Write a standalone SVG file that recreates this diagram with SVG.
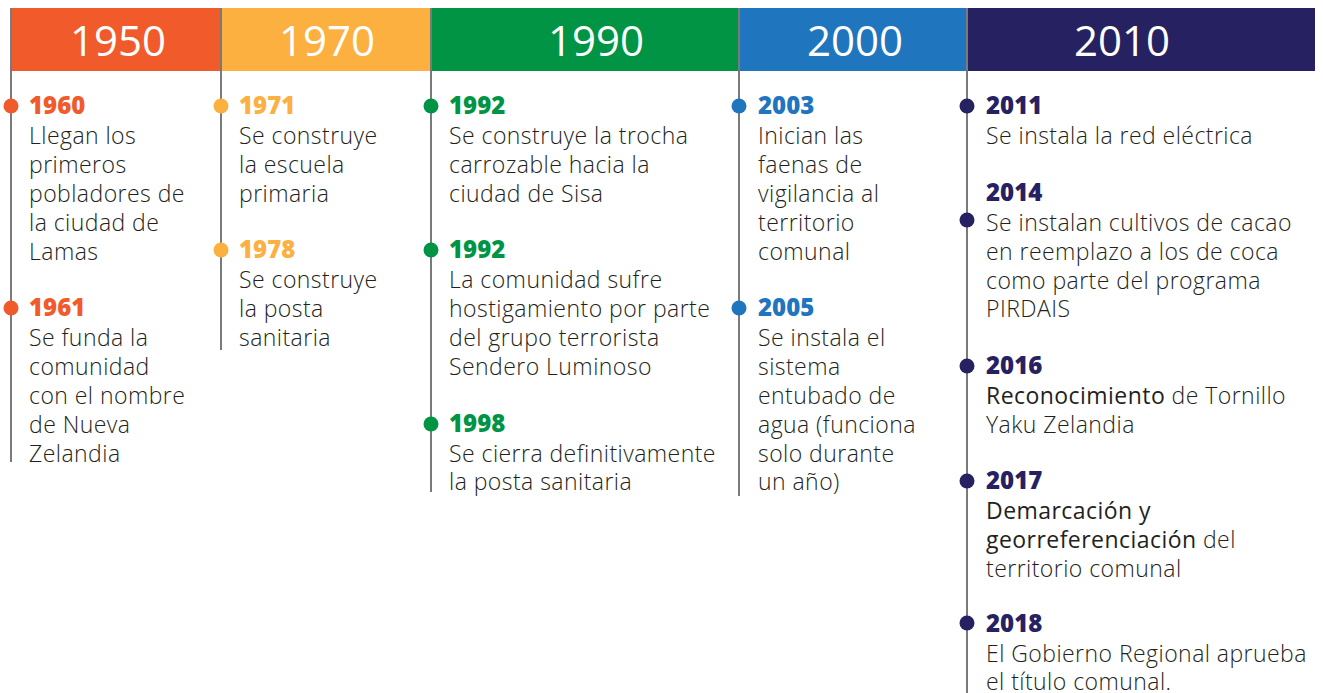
<svg xmlns="http://www.w3.org/2000/svg" width="1323" height="693" viewBox="0 0 1323 693">
<style>
.hd{font-family:"Open Sans","Liberation Sans",sans-serif;font-size:42px;fill:#fff;text-anchor:middle;font-weight:400}
.yr{font-family:"Open Sans","Liberation Sans",sans-serif;font-size:24px;font-weight:800}
.tx{font-family:"Open Sans","Liberation Sans",sans-serif;font-size:23px;font-weight:300;fill:#231f20;letter-spacing:0.45px}
.b{font-weight:500}
.ln{stroke:#7a7a7a;stroke-width:2}
.c1{fill:#f15a2b}.c2{fill:#fbb040}.c3{fill:#009444}.c4{fill:#1f75be}.c5{fill:#262262}
</style>
<rect width="1323" height="693" fill="#fff"/>
<g id="header">
<rect x="11" y="8" width="210" height="63" class="c1"/>
<rect x="221" y="8" width="210" height="63" class="c2"/>
<rect x="431" y="8" width="308" height="63" class="c3"/>
<rect x="739" y="8" width="228" height="63" class="c4"/>
<rect x="967" y="8" width="348" height="63" class="c5"/>
<text class="hd" x="118" y="56">1950</text>
<text class="hd" x="327" y="56">1970</text>
<text class="hd" x="596" y="56">1990</text>
<text class="hd" x="855" y="56">2000</text>
<text class="hd" x="1122" y="56">2010</text>
</g>
<g id="connectors">
<line class="ln" x1="11" y1="8" x2="11" y2="462"/>
<line class="ln" x1="221" y1="8" x2="221" y2="350"/>
<line class="ln" x1="431" y1="8" x2="431" y2="492"/>
<line class="ln" x1="739" y1="8" x2="739" y2="496"/>
<line class="ln" x1="967" y1="8" x2="967" y2="693"/>
</g>
<g id="col1950">
<circle cx="11" cy="106" r="7.5" class="c1"/>
<text class="yr c1" x="29" y="114">1960</text>
<text class="tx" x="29" y="144">Llegan los</text>
<text class="tx" x="29" y="173">primeros</text>
<text class="tx" x="29" y="202">pobladores de</text>
<text class="tx" x="29" y="231">la ciudad de</text>
<text class="tx" x="29" y="260">Lamas</text>
<circle cx="11" cy="308" r="7.5" class="c1"/>
<text class="yr c1" x="29" y="316">1961</text>
<text class="tx" x="29" y="346">Se funda la</text>
<text class="tx" x="29" y="375">comunidad</text>
<text class="tx" x="29" y="404">con el nombre</text>
<text class="tx" x="29" y="433">de Nueva</text>
<text class="tx" x="29" y="462">Zelandia</text>
</g>
<g id="col1970">
<circle cx="221" cy="106" r="7.5" class="c2"/>
<text class="yr c2" x="239" y="114">1971</text>
<text class="tx" x="239" y="144">Se construye</text>
<text class="tx" x="239" y="173">la escuela</text>
<text class="tx" x="239" y="202">primaria</text>
<circle cx="221" cy="250" r="7.5" class="c2"/>
<text class="yr c2" x="239" y="258">1978</text>
<text class="tx" x="239" y="288">Se construye</text>
<text class="tx" x="239" y="317">la posta</text>
<text class="tx" x="239" y="346">sanitaria</text>
</g>
<g id="col1990">
<circle cx="431" cy="106" r="7.5" class="c3"/>
<text class="yr c3" x="449" y="114">1992</text>
<text class="tx" x="449" y="144">Se construye la trocha</text>
<text class="tx" x="449" y="173">carrozable hacia la</text>
<text class="tx" x="449" y="202">ciudad de Sisa</text>
<circle cx="431" cy="250" r="7.5" class="c3"/>
<text class="yr c3" x="449" y="258">1992</text>
<text class="tx" x="449" y="288">La comunidad sufre</text>
<text class="tx" x="449" y="317">hostigamiento por parte</text>
<text class="tx" x="449" y="346">del grupo terrorista</text>
<text class="tx" x="449" y="375">Sendero Luminoso</text>
<circle cx="431" cy="424" r="7.5" class="c3"/>
<text class="yr c3" x="449" y="432">1998</text>
<text class="tx" x="449" y="462">Se cierra definitivamente</text>
<text class="tx" x="449" y="490">la posta sanitaria</text>
</g>
<g id="col2000">
<circle cx="739" cy="106" r="7.5" class="c4"/>
<text class="yr c4" x="758" y="114">2003</text>
<text class="tx" x="758" y="144">Inician las</text>
<text class="tx" x="758" y="173">faenas de</text>
<text class="tx" x="758" y="202">vigilancia al</text>
<text class="tx" x="758" y="231">territorio</text>
<text class="tx" x="758" y="260">comunal</text>
<circle cx="739" cy="308" r="7.5" class="c4"/>
<text class="yr c4" x="758" y="316">2005</text>
<text class="tx" x="758" y="346">Se instala el</text>
<text class="tx" x="758" y="375">sistema</text>
<text class="tx" x="758" y="404">entubado de</text>
<text class="tx" x="758" y="433">agua (funciona</text>
<text class="tx" x="758" y="462">solo durante</text>
<text class="tx" x="758" y="490">un año)</text>
</g>
<g id="col2010">
<circle cx="967" cy="106" r="7.5" class="c5"/>
<text class="yr c5" x="986" y="114">2011</text>
<text class="tx" x="986" y="144">Se instala la red eléctrica</text>
<circle cx="967" cy="220" r="7.5" class="c5"/>
<text class="yr c5" x="986" y="201">2014</text>
<text class="tx" x="986" y="231">Se instalan cultivos de cacao</text>
<text class="tx" x="986" y="260">en reemplazo a los de coca</text>
<text class="tx" x="986" y="289">como parte del programa</text>
<text class="tx" x="986" y="317">PIRDAIS</text>
<circle cx="967" cy="366" r="7.5" class="c5"/>
<text class="yr c5" x="986" y="374">2016</text>
<text class="tx" x="986" y="404"><tspan class="b">Reconocimiento</tspan> de Tornillo</text>
<text class="tx" x="986" y="433">Yaku Zelandia</text>
<circle cx="967" cy="481" r="7.5" class="c5"/>
<text class="yr c5" x="986" y="489">2017</text>
<text class="tx" x="986" y="519"><tspan class="b">Demarcación y</tspan></text>
<text class="tx" x="986" y="548"><tspan class="b">georreferenciación</tspan> del</text>
<text class="tx" x="986" y="577">territorio comunal</text>
<circle cx="967" cy="623" r="7.5" class="c5"/>
<text class="yr c5" x="986" y="632">2018</text>
<text class="tx" x="986" y="662">El Gobierno Regional aprueba</text>
<text class="tx" x="986" y="690">el título comunal.</text>
</g>
</svg>
